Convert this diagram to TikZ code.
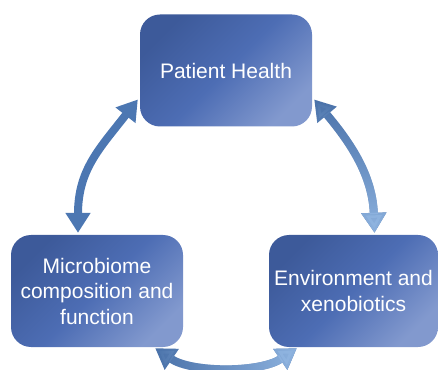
\documentclass[tikz,border=0pt]{standalone}
\usepackage{fontspec}
\setmainfont{Liberation Sans}
\usetikzlibrary{arrows.meta,fadings}
\definecolor{boxdark}{HTML}{3D5A9A}
\definecolor{boxmid}{HTML}{4D6DB4}
\definecolor{boxlight}{HTML}{8299CE}
\definecolor{arrowmid}{HTML}{4C77B2}
\definecolor{arrowdark}{HTML}{4870A8}
\definecolor{arrowlight}{HTML}{8FB4E0}
\tikzfading[name=fadedown, top color=transparent!100, bottom color=transparent!0]
\tikzfading[name=faderight, left color=transparent!100, right color=transparent!0]

\begin{document}
\begin{tikzpicture}[x=1pt,y=1pt,
      box/.style={rounded corners=20pt,top color=boxdark,bottom color=boxlight,
        middle color=boxmid,shading angle=45,minimum width=172pt,
        minimum height=112pt,align=center,text=white,
        font=\fontsize{21}{25.5}\selectfont},
      link/.style={line width=8pt,
        {Triangle[width=24pt,length=20pt]}-{Triangle[width=24pt,length=20pt]}}]
			\useasboundingbox (0,0) rectangle (438,369);
			\node[box] (ph) at (226,298.5) {Patient Health};
			\node[box] (mc) at (97,78) {Microbiome\\composition and\\function};
			\node[box,minimum width=169pt] (env) at (353.5,78) {Environment and\\xenobiotics};
			% links
			\draw[link,arrowmid] ([xshift=-2pt,yshift=-29pt]ph.west)
				to[out=232,in=90,looseness=1.1] ([xshift=-19pt,yshift=2pt]mc.north);
			\draw[link,arrowdark] ([xshift=2pt,yshift=-29pt]ph.east)
				to[out=-50,in=92] ([xshift=21pt,yshift=2pt]env.north);
			\draw[link,arrowlight,path fading=fadedown] ([xshift=2pt,yshift=-29pt]ph.east)
				to[out=-50,in=92] ([xshift=21pt,yshift=2pt]env.north);
			\draw[link,arrowdark] ([xshift=-28pt,yshift=-1pt]mc.south east)
				to[out=-34,in=214,looseness=0.8] ([xshift=28pt,yshift=-1pt]env.south west);
			\draw[link,arrowlight,path fading=faderight] ([xshift=-28pt,yshift=-1pt]mc.south east)
				to[out=-34,in=214,looseness=0.8] ([xshift=28pt,yshift=-1pt]env.south west);
		\end{tikzpicture}
\end{document}
